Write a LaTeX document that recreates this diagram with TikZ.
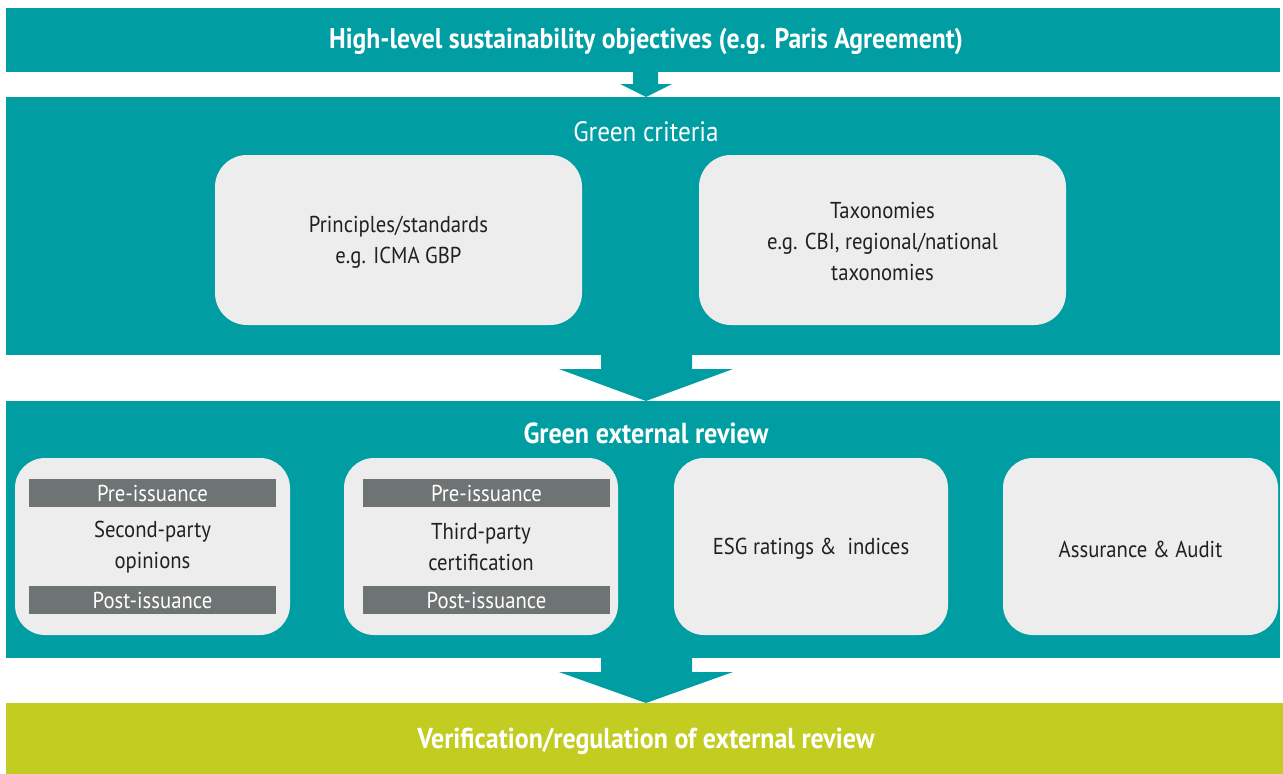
\documentclass[tikz,border=0pt]{standalone}
\usepackage{fontspec}
\setmainfont{PT Sans}[FakeStretch=0.9]
\definecolor{teal}{HTML}{009EA3}
\definecolor{olive}{HTML}{C2CC21}
\definecolor{boxgray}{HTML}{EDEDED}
\definecolor{bargray}{HTML}{6E7473}
\definecolor{ink}{HTML}{231F20}
\tikzset{
  band/.style={fill=#1, draw=none, inner sep=0pt, text=white},
  card/.style={fill=boxgray, draw=none, rounded corners=32pt, inner sep=0pt, text=ink, align=center},
  bar/.style={fill=bargray, draw=none, inner sep=0pt, text=white, minimum width=247pt, minimum height=28pt, font=\fontsize{23}{24}\selectfont},
  bodytxt/.style={text=ink, align=center, font=\fontsize{23}{31}\selectfont},
  downarrow/.style={fill=teal, draw=none}
}
\begin{document}
\begin{tikzpicture}[x=1pt,y=-1pt]
\useasboundingbox (0,0) rectangle (1283,774);
% bands
\node[band=teal, minimum width=1274pt, minimum height=64pt] (b1) at (643,40) {};
\node[text=white, font=\bfseries\fontsize{28.5}{32}\selectfont] (t1) at (646,41) {High-level sustainability objectives (e.g. Paris Agreement)};
\node[band=teal, minimum width=1274pt, minimum height=258pt] (b2) at (643,226) {};
\node[text=white, font=\fontsize{28}{32}\selectfont] (t2) at (646,132) {Green criteria};
\node[band=teal, minimum width=1274pt, minimum height=257pt] (b3) at (643,529.5) {};
\node[text=white, font=\bfseries\fontsize{29}{32}\selectfont] (t3) at (646,433) {Green external review};
\node[band=olive, minimum width=1277pt, minimum height=71pt] (b4) at (644.5,738.5) {};
\node[text=white, font=\bfseries\fontsize{28.8}{32}\selectfont] (t4) at (646,741) {Verification/regulation of external review};
% arrows
\fill[downarrow] (633,71) -- (658,71) -- (658,84) -- (672,84) -- (646,97) -- (620,84) -- (633,84) -- cycle;
\fill[downarrow] (601,354) -- (692,354) -- (692,369) -- (733,369) -- (646,401) -- (559,369) -- (601,369) -- cycle;
\fill[downarrow] (601,657) -- (692,657) -- (692,672) -- (733,672) -- (646,703) -- (559,672) -- (601,672) -- cycle;
% green criteria cards
\node[card, minimum width=367pt, minimum height=170pt] (c1) at (398.5,240) {};
\node[bodytxt] (c1t) at (398.5,242) {Principles/standards\\e.g. ICMA GBP};
\node[card, minimum width=367pt, minimum height=170pt] (c2) at (882.5,240) {};
\node[bodytxt] (c2t) at (882.5,241) {Taxonomies\\e.g. CBI, regional/national\\taxonomies};
% external review cards
\node[card, rounded corners=30pt, minimum width=275pt, minimum height=177pt] (r1) at (152.5,546.5) {};
\node[bar] (r1a) at (152.5,493) {Pre-issuance};
\node[bodytxt] (r1t) at (152.5,547) {Second-party\\opinions};
\node[bar] (r1b) at (152.5,600) {Post-issuance};
\node[card, rounded corners=30pt, minimum width=274pt, minimum height=177pt] (r2) at (481,546.5) {};
\node[bar] (r2a) at (486.5,493) {Pre-issuance};
\node[bodytxt] (r2t) at (481,547) {Third-party\\certification};
\node[bar] (r2b) at (486.5,600) {Post-issuance};
\node[card, rounded corners=30pt, minimum width=274pt, minimum height=177pt] (r3) at (811,546.5) {};
\node[bodytxt] (r3t) at (811,549) {ESG ratings \&\ \ indices};
\node[card, rounded corners=30pt, minimum width=275pt, minimum height=177pt] (r4) at (1140.5,546.5) {};
\node[bodytxt] (r4t) at (1140.5,549) {Assurance \& Audit};
\end{tikzpicture}
\end{document}
